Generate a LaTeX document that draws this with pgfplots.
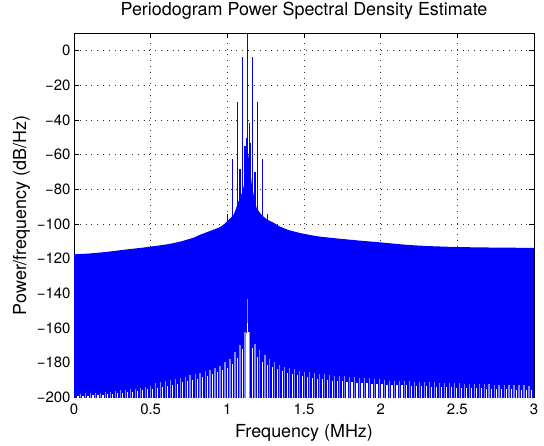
\documentclass[border=0pt]{standalone}
\usepackage{fontspec}
\setmainfont{TeX Gyre Heros}
\usepackage{pgfplots}
\pgfplotsset{compat=1.18}
\definecolor{faint}{RGB}{135,135,255}
\begin{document}
\begin{tikzpicture}
\useasboundingbox (0,0) rectangle (544bp,446bp);
\begin{axis}[
  at={(74bp,48.6bp)}, anchor=south west,
  scale only axis, width=460bp, height=364.1bp,
  xmin=0, xmax=3, ymin=-200, ymax=10,
  xtick={0,0.5,1,1.5,2,2.5,3}, xticklabels={0,0.5,1,1.5,2,2.5,3},
  ytick={-200,-180,-160,-140,-120,-100,-80,-60,-40,-20,0},
  yticklabels={−200,−180,−160,−140,−120,−100,−80,−60,−40,−20,0},
  tick label style={font=\fontsize{15}{18}\selectfont},
  xticklabel style={anchor=base, yshift=-17.5bp},
  grid=major,
  grid style={black!80, line width=0.5bp, dash pattern=on 0.8bp off 5bp},
  major tick length=5bp,
  tick style={black, line width=0.5bp},
  axis line style={line width=0.6bp},
  title={Periodogram Power Spectral Density Estimate},
  title style={at={(axis description cs:0.5,1.0338)}, anchor=base, font=\fontsize{18}{21}\selectfont},
  xlabel={Frequency (MHz)},
  xlabel style={at={(axis description cs:0.5,-0.1099)}, anchor=base, font=\fontsize{18}{21}\selectfont},
  ylabel={Power/frequency (dB/Hz)},
  ylabel style={at={(axis description cs:-0.1043,0.5)}, anchor=base, rotate=0, font=\fontsize{18}{21}\selectfont},
  unbounded coords=jump,
]
% upper envelope, filled down to the bottom
\addplot[draw=none, fill=blue] coordinates {
(0,-201) (0,-117.5) (0.1,-117.0) (0.2,-116.2) (0.33,-114.8) (0.45,-113.6) (0.52,-112.8)
(0.6,-111.8) (0.65,-111.0) (0.7,-110.0) (0.78,-107.9) (0.822,-106.2) (0.87,-104.6)
(0.9,-103.6) (0.935,-102.4) (0.952,-101.8) (0.98,-100.0) (1.007,-97.7) (1.02,-96.6)
(1.04,-94.8) (1.055,-91.5) (1.068,-88.0) (1.094,-82.3) (1.105,-79) (1.115,-74.6)
(1.122,-70) (1.126,-65) (1.132,-57) (1.14,-62) (1.148,-67) (1.158,-76) (1.17,-82.3)
(1.18,-87) (1.192,-91) (1.224,-94.8) (1.257,-97.3) (1.3,-99.2) (1.344,-101.5)
(1.4,-103.5) (1.474,-105.2) (1.55,-106.5) (1.605,-107.3) (1.735,-108.5) (1.866,-109.6)
(2.0,-110.6) (2.13,-111.7) (2.2,-112.2) (2.3,-112.7) (2.5,-113.3) (2.75,-113.6)
(2.9,-113.7) (3.0,-113.8) (3.0,-201)
};
% spectral lines
\addplot[blue, line width=1.3bp] coordinates {
(1.0,-105) (1.0,-94.4) (1.0,nan)
(1.033,-100) (1.033,-62.7) (1.033,nan)
(1.066,-100) (1.066,-29.8) (1.066,nan)
(1.083,-100) (1.083,-68) (1.083,nan)
(1.099,-100) (1.099,-3.8) (1.099,nan)
(1.115,-100) (1.115,-55) (1.115,nan)
(1.126,-100) (1.126,-50.6) (1.126,nan)
(1.132,-100) (1.132,15) (1.132,nan)
(1.144,-100) (1.144,-42) (1.144,nan)
(1.153,-100) (1.153,-53) (1.153,nan)
(1.164,-100) (1.164,-3.8) (1.164,nan)
(1.18,-100) (1.18,-70) (1.18,nan)
(1.196,-100) (1.196,-29.8) (1.196,nan)
(1.229,-100) (1.229,-62.7) (1.229,nan)
(1.261,-105) (1.261,-94.4) (1.261,nan)
};
% faint (partly covered) gaps
\addplot[faint, line width=1.2bp] coordinates {
(0.042,-201) (0.042,-197.8) (0.042,nan)
(0.075,-201) (0.075,-197.6) (0.075,nan)
(0.107,-201) (0.107,-197.5) (0.107,nan)
(0.14,-201) (0.14,-197.3) (0.14,nan)
(0.172,-201) (0.172,-197.2) (0.172,nan)
(0.205,-201) (0.205,-197.0) (0.205,nan)
(0.237,-201) (0.237,-196.7) (0.237,nan)
(0.27,-201) (0.27,-196.3) (0.27,nan)
(0.302,-201) (0.302,-196.0) (0.302,nan)
(0.335,-201) (0.335,-195.7) (0.335,nan)
(0.367,-201) (0.367,-195.4) (0.367,nan)
(0.40,-201) (0.40,-195.0) (0.40,nan)
(0.432,-201) (0.432,-194.6) (0.432,nan)
(0.465,-201) (0.465,-194.2) (0.465,nan)
(0.497,-201) (0.497,-193.7) (0.497,nan)
(0.530,-201) (0.530,-191.8) (0.530,nan)
(0.562,-201) (0.562,-191.2) (0.562,nan)
(0.595,-201) (0.595,-190.6) (0.595,nan)
(0.627,-201) (0.627,-190.0) (0.627,nan)
(0.660,-201) (0.660,-189.3) (0.660,nan)
(0.692,-201) (0.692,-188.6) (0.692,nan)
(0.725,-201) (0.725,-188.0) (0.725,nan)
(0.757,-201) (0.757,-187.3) (0.757,nan)
(0.790,-201) (0.790,-186.5) (0.790,nan)
(0.822,-201) (0.822,-185.7) (0.822,nan)
(0.855,-201) (0.855,-184.9) (0.855,nan)
(0.887,-201) (0.887,-184.0) (0.887,nan)
(0.920,-201) (0.920,-183.0) (0.920,nan)
(0.952,-201) (0.952,-181.8) (0.952,nan)
(0.985,-201) (0.985,-179.5) (0.985,nan)
(1.017,-201) (1.017,-177.8) (1.017,nan)
(1.050,-201) (1.050,-174.1) (1.050,nan)
(1.082,-201) (1.082,-169.8) (1.082,nan)
(1.115,-201) (1.115,-162.5) (1.115,nan)
(1.131,-201) (1.131,-143) (1.131,nan)
(1.147,-201) (1.147,-162.4) (1.147,nan)
(1.180,-201) (1.180,-169.2) (1.180,nan)
(1.212,-201) (1.212,-172.9) (1.212,nan)
(1.245,-201) (1.245,-175.4) (1.245,nan)
(1.277,-201) (1.277,-178.0) (1.277,nan)
(1.310,-201) (1.310,-179.3) (1.310,nan)
(1.342,-201) (1.342,-181.3) (1.342,nan)
(1.375,-201) (1.375,-182.3) (1.375,nan)
(1.407,-201) (1.407,-183.1) (1.407,nan)
(1.440,-201) (1.440,-183.8) (1.440,nan)
(1.472,-201) (1.472,-184.5) (1.472,nan)
(1.505,-201) (1.505,-185.1) (1.505,nan)
(1.537,-201) (1.537,-185.5) (1.537,nan)
(1.570,-201) (1.570,-185.9) (1.570,nan)
(1.602,-201) (1.602,-186.3) (1.602,nan)
(1.635,-201) (1.635,-186.7) (1.635,nan)
(1.667,-201) (1.667,-187.1) (1.667,nan)
(1.700,-201) (1.700,-187.5) (1.700,nan)
(1.732,-201) (1.732,-187.7) (1.732,nan)
(1.765,-201) (1.765,-187.9) (1.765,nan)
(1.797,-201) (1.797,-188.1) (1.797,nan)
(1.830,-201) (1.830,-188.4) (1.830,nan)
(1.862,-201) (1.862,-188.6) (1.862,nan)
(1.895,-201) (1.895,-188.8) (1.895,nan)
(1.927,-201) (1.927,-189.0) (1.927,nan)
(1.960,-201) (1.960,-189.2) (1.960,nan)
(1.992,-201) (1.992,-189.4) (1.992,nan)
(2.025,-201) (2.025,-190.1) (2.025,nan)
(2.057,-201) (2.057,-190.3) (2.057,nan)
(2.090,-201) (2.090,-190.4) (2.090,nan)
(2.122,-201) (2.122,-190.5) (2.122,nan)
(2.155,-201) (2.155,-190.6) (2.155,nan)
(2.187,-201) (2.187,-190.7) (2.187,nan)
(2.220,-201) (2.220,-190.9) (2.220,nan)
(2.252,-201) (2.252,-191.0) (2.252,nan)
(2.285,-201) (2.285,-191.1) (2.285,nan)
(2.317,-201) (2.317,-191.2) (2.317,nan)
(2.350,-201) (2.350,-191.4) (2.350,nan)
(2.382,-201) (2.382,-191.5) (2.382,nan)
(2.415,-201) (2.415,-191.6) (2.415,nan)
(2.447,-201) (2.447,-191.7) (2.447,nan)
(2.480,-201) (2.480,-191.8) (2.480,nan)
(2.512,-201) (2.512,-191.9) (2.512,nan)
(2.545,-201) (2.545,-192.0) (2.545,nan)
(2.577,-201) (2.577,-192.1) (2.577,nan)
(2.610,-201) (2.610,-192.2) (2.610,nan)
(2.642,-201) (2.642,-192.3) (2.642,nan)
(2.675,-201) (2.675,-192.4) (2.675,nan)
(2.707,-201) (2.707,-192.5) (2.707,nan)
(2.740,-201) (2.740,-192.6) (2.740,nan)
(2.772,-201) (2.772,-192.7) (2.772,nan)
(2.805,-201) (2.805,-192.8) (2.805,nan)
(2.837,-201) (2.837,-192.9) (2.837,nan)
(2.870,-201) (2.870,-193.0) (2.870,nan)
(2.902,-201) (2.902,-193.0) (2.902,nan)
(2.935,-201) (2.935,-193.1) (2.935,nan)
(2.967,-201) (2.967,-193.2) (2.967,nan)
};
% white gaps (lower envelope)
\addplot[white, line width=1.2bp] coordinates {
(0.026,-201) (0.026,-199.4) (0.026,nan)
(0.0585,-201) (0.0585,-199.2) (0.0585,nan)
(0.091,-201) (0.091,-199.0) (0.091,nan)
(0.1235,-201) (0.1235,-198.9) (0.1235,nan)
(0.156,-201) (0.156,-198.7) (0.156,nan)
(0.1885,-201) (0.1885,-198.6) (0.1885,nan)
(0.221,-201) (0.221,-198.3) (0.221,nan)
(0.2535,-201) (0.2535,-198.0) (0.2535,nan)
(0.286,-201) (0.286,-197.6) (0.286,nan)
(0.3185,-201) (0.3185,-197.3) (0.3185,nan)
(0.351,-201) (0.351,-197.0) (0.351,nan)
(0.3835,-201) (0.3835,-196.7) (0.3835,nan)
(0.416,-201) (0.416,-196.3) (0.416,nan)
(0.4485,-201) (0.4485,-195.9) (0.4485,nan)
(0.481,-201) (0.481,-195.4) (0.481,nan)
(0.5135,-201) (0.5135,-195.0) (0.5135,nan)
(0.546,-201) (0.546,-194.6) (0.546,nan)
(0.5785,-201) (0.5785,-193.9) (0.5785,nan)
(0.611,-201) (0.611,-193.3) (0.611,nan)
(0.6435,-201) (0.6435,-192.6) (0.6435,nan)
(0.676,-201) (0.676,-192.0) (0.676,nan)
(0.7085,-201) (0.7085,-191.3) (0.7085,nan)
(0.741,-201) (0.741,-190.7) (0.741,nan)
(0.7735,-201) (0.7735,-189.9) (0.7735,nan)
(0.806,-201) (0.806,-189.1) (0.806,nan)
(0.8385,-201) (0.8385,-188.3) (0.8385,nan)
(0.871,-201) (0.871,-187.5) (0.871,nan)
(0.9035,-201) (0.9035,-186.5) (0.9035,nan)
(0.936,-201) (0.936,-185.4) (0.936,nan)
(0.9685,-201) (0.9685,-184.2) (0.9685,nan)
(1.001,-201) (1.001,-182.8) (1.001,nan)
(1.0335,-201) (1.0335,-180.7) (1.0335,nan)
(1.066,-201) (1.066,-177.5) (1.066,nan)
(1.0985,-201) (1.0985,-172.0) (1.0985,nan)
(1.125,-201) (1.125,-163) (1.125,nan)
(1.131,-201) (1.131,-157) (1.131,nan)
(1.137,-201) (1.137,-162) (1.137,nan)
(1.1635,-201) (1.1635,-171.6) (1.1635,nan)
(1.196,-201) (1.196,-176.5) (1.196,nan)
(1.2285,-201) (1.2285,-179.3) (1.2285,nan)
(1.261,-201) (1.261,-181.4) (1.261,nan)
(1.2935,-201) (1.2935,-182.7) (1.2935,nan)
(1.326,-201) (1.326,-183.8) (1.326,nan)
(1.3585,-201) (1.3585,-184.8) (1.3585,nan)
(1.391,-201) (1.391,-185.7) (1.391,nan)
(1.4235,-201) (1.4235,-186.5) (1.4235,nan)
(1.456,-201) (1.456,-187.1) (1.456,nan)
(1.4885,-201) (1.4885,-187.8) (1.4885,nan)
(1.521,-201) (1.521,-188.3) (1.521,nan)
(1.5535,-201) (1.5535,-188.7) (1.5535,nan)
(1.586,-201) (1.586,-189.1) (1.586,nan)
(1.6185,-201) (1.6185,-189.5) (1.6185,nan)
(1.651,-201) (1.651,-189.9) (1.651,nan)
(1.6835,-201) (1.6835,-190.3) (1.6835,nan)
(1.716,-201) (1.716,-190.6) (1.716,nan)
(1.7485,-201) (1.7485,-190.8) (1.7485,nan)
(1.781,-201) (1.781,-191.0) (1.781,nan)
(1.8135,-201) (1.8135,-191.2) (1.8135,nan)
(1.846,-201) (1.846,-191.5) (1.846,nan)
(1.8785,-201) (1.8785,-191.7) (1.8785,nan)
(1.911,-201) (1.911,-191.9) (1.911,nan)
(1.9435,-201) (1.9435,-192.1) (1.9435,nan)
(1.976,-201) (1.976,-192.3) (1.976,nan)
(2.0085,-201) (2.0085,-192.5) (2.0085,nan)
(2.041,-201) (2.041,-192.7) (2.041,nan)
(2.0735,-201) (2.0735,-192.8) (2.0735,nan)
(2.106,-201) (2.106,-192.9) (2.106,nan)
(2.1385,-201) (2.1385,-193.0) (2.1385,nan)
(2.171,-201) (2.171,-193.1) (2.171,nan)
(2.2035,-201) (2.2035,-193.3) (2.2035,nan)
(2.236,-201) (2.236,-193.4) (2.236,nan)
(2.2685,-201) (2.2685,-193.5) (2.2685,nan)
(2.301,-201) (2.301,-193.6) (2.301,nan)
(2.3335,-201) (2.3335,-193.8) (2.3335,nan)
(2.366,-201) (2.366,-193.9) (2.366,nan)
(2.3985,-201) (2.3985,-194.0) (2.3985,nan)
(2.431,-201) (2.431,-194.1) (2.431,nan)
(2.4635,-201) (2.4635,-194.2) (2.4635,nan)
(2.496,-201) (2.496,-194.3) (2.496,nan)
(2.5285,-201) (2.5285,-194.4) (2.5285,nan)
(2.561,-201) (2.561,-194.5) (2.561,nan)
(2.5935,-201) (2.5935,-194.6) (2.5935,nan)
(2.626,-201) (2.626,-194.7) (2.626,nan)
(2.6585,-201) (2.6585,-194.8) (2.6585,nan)
(2.691,-201) (2.691,-194.9) (2.691,nan)
(2.7235,-201) (2.7235,-195.0) (2.7235,nan)
(2.756,-201) (2.756,-195.1) (2.756,nan)
(2.7885,-201) (2.7885,-195.2) (2.7885,nan)
(2.821,-201) (2.821,-195.3) (2.821,nan)
(2.8535,-201) (2.8535,-195.4) (2.8535,nan)
(2.886,-201) (2.886,-195.5) (2.886,nan)
(2.9185,-201) (2.9185,-195.5) (2.9185,nan)
(2.951,-201) (2.951,-195.6) (2.951,nan)
(2.9835,-201) (2.9835,-195.7) (2.9835,nan)
};
\end{axis}
\end{tikzpicture}
\end{document}
